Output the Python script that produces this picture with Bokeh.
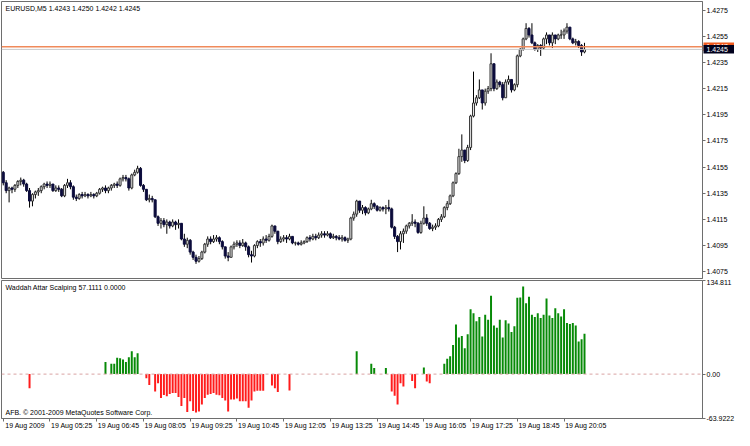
from bokeh.plotting import figure
from bokeh.layouts import column
from bokeh.models import ColumnDataSource, FixedTicker, Span, Label, NumeralTickFormatter, LinearAxis
from bokeh.embed import file_html
from bokeh.resources import INLINE
from bokeh.core.properties import value

FONT = "Liberation Sans"
FS = "7px"

# ---------------- data (EURUSD M5, 19 Aug 2009, 200 bars) ----------------
first_open = 1.4151
closes = [
    1.4143, 1.4137, 1.4139, 1.4138, 1.4141, 1.4144, 1.4145, 1.4142, 1.4137, 1.4129,   # 0-9
    1.4134, 1.4136, 1.4137, 1.4140, 1.4142, 1.4141, 1.4142, 1.4137, 1.4139, 1.4138,   # 10-19
    1.4133, 1.4141, 1.4143, 1.4140, 1.4132, 1.4131, 1.4134, 1.4133, 1.4134, 1.4133,   # 20-29
    1.4134, 1.4133, 1.4135, 1.4138, 1.4139, 1.4137, 1.4139, 1.4141, 1.4142, 1.4141,   # 30-39
    1.4146, 1.4147, 1.4146, 1.4139, 1.4149, 1.4151, 1.4154, 1.4141, 1.4138, 1.4130,   # 40-49
    1.4131, 1.4130, 1.4117, 1.4112, 1.4114, 1.4111, 1.4113, 1.4110, 1.4113, 1.4111,   # 50-59
    1.4112, 1.4100, 1.4096, 1.4099, 1.4090, 1.4086, 1.4083, 1.4085, 1.4090, 1.4096,   # 60-69
    1.4100, 1.4098, 1.4100, 1.4101, 1.4098, 1.4094, 1.4087, 1.4086, 1.4094, 1.4096,   # 70-79
    1.4097, 1.4095, 1.4097, 1.4094, 1.4088, 1.4087, 1.4095, 1.4098, 1.4097, 1.4100,   # 80-89
    1.4099, 1.4102, 1.4110, 1.4106, 1.4098, 1.4100, 1.4101, 1.4100, 1.4102, 1.4097,   # 90-99
    1.4097, 1.4096, 1.4097, 1.4098, 1.4101, 1.4100, 1.4102, 1.4101, 1.4103, 1.4104,   # 100-109
    1.4103, 1.4104, 1.4101, 1.4102, 1.4101, 1.4100, 1.4101, 1.4099, 1.4100, 1.4116,   # 110-119
    1.4119, 1.4129, 1.4122, 1.4124, 1.4120, 1.4123, 1.4127, 1.4125, 1.4122, 1.4124,   # 120-129
    1.4123, 1.4124, 1.4123, 1.4109, 1.4102, 1.4098, 1.4104, 1.4106, 1.4110, 1.4112,   # 130-139
    1.4113, 1.4112, 1.4105, 1.4112, 1.4116, 1.4112, 1.4108, 1.4109, 1.4110, 1.4115,   # 140-149
    1.4117, 1.4124, 1.4127, 1.4133, 1.4143, 1.4150, 1.4163, 1.4168, 1.4160, 1.4170,   # 150-159
    1.4194, 1.4204, 1.4208, 1.4214, 1.4204, 1.4213, 1.4215, 1.4234, 1.4215, 1.4220,   # 160-169
    1.4218, 1.4208, 1.4220, 1.4222, 1.4214, 1.4218, 1.4240, 1.4245, 1.4253, 1.4261,   # 170-179
    1.4256, 1.4250, 1.4245, 1.4248, 1.4246, 1.4253, 1.4256, 1.4250, 1.4256, 1.4253,   # 180-189
    1.4256, 1.4256, 1.4259, 1.4262, 1.4253, 1.4250, 1.4251, 1.4248, 1.4243, 1.4245,   # 190-199
]
highs = [
    1.4152, 1.4145, 1.4140, 1.4140, 1.4142, 1.4145, 1.4147, 1.4146, 1.4143, 1.4139,
    1.4135, 1.4137, 1.4139, 1.4141, 1.4143, 1.4144, 1.4144, 1.4142, 1.4141, 1.4141,
    1.4139, 1.4142, 1.4146, 1.4145, 1.4141, 1.4134, 1.4135, 1.4136, 1.4136, 1.4135,
    1.4136, 1.4135, 1.4136, 1.4139, 1.4140, 1.4141, 1.4140, 1.4142, 1.4143, 1.4144,
    1.4147, 1.4149, 1.4149, 1.4147, 1.4150, 1.4153, 1.4156, 1.4155, 1.4142, 1.4138,
    1.4134, 1.4133, 1.4130, 1.4118, 1.4116, 1.4116, 1.4115, 1.4114, 1.4115, 1.4114,
    1.4115, 1.4112, 1.4104, 1.4101, 1.4100, 1.4091, 1.4088, 1.4087, 1.4091, 1.4097,
    1.4102, 1.4102, 1.4103, 1.4103, 1.4102, 1.4099, 1.4094, 1.4090, 1.4095, 1.4098,
    1.4099, 1.4099, 1.4100, 1.4098, 1.4095, 1.4091, 1.4096, 1.4099, 1.4100, 1.4102,
    1.4103, 1.4104, 1.4111, 1.4110, 1.4106, 1.4102, 1.4103, 1.4103, 1.4104, 1.4102,
    1.4098, 1.4098, 1.4099, 1.4099, 1.4102, 1.4103, 1.4104, 1.4104, 1.4105, 1.4106,
    1.4106, 1.4106, 1.4105, 1.4104, 1.4103, 1.4103, 1.4103, 1.4102, 1.4101, 1.4117,
    1.4121, 1.4130, 1.4129, 1.4126, 1.4125, 1.4124, 1.4130, 1.4128, 1.4126, 1.4125,
    1.4125, 1.4126, 1.4130, 1.4124, 1.4110, 1.4103, 1.4106, 1.4108, 1.4111, 1.4113,
    1.4119, 1.4115, 1.4113, 1.4114, 1.4125, 1.4119, 1.4113, 1.4111, 1.4112, 1.4116,
    1.4119, 1.4125, 1.4129, 1.4134, 1.4144, 1.4151, 1.4169, 1.4180, 1.4168, 1.4172,
    1.4195, 1.4228, 1.4210, 1.4222, 1.4213, 1.4215, 1.4217, 1.4242, 1.4234, 1.4222,
    1.4221, 1.4220, 1.4222, 1.4225, 1.4221, 1.4219, 1.4241, 1.4246, 1.4254, 1.4265,
    1.4262, 1.4265, 1.4251, 1.4249, 1.4249, 1.4254, 1.4258, 1.4256, 1.4258, 1.4256,
    1.4257, 1.4260, 1.4261, 1.4265, 1.4262, 1.4254, 1.4253, 1.4252, 1.4249, 1.4250,
]
lows = [
    1.4141, 1.4135, 1.4128, 1.4135, 1.4136, 1.4139, 1.4141, 1.4140, 1.4136, 1.4124,
    1.4125, 1.4131, 1.4133, 1.4135, 1.4138, 1.4139, 1.4139, 1.4136, 1.4136, 1.4136,
    1.4132, 1.4132, 1.4139, 1.4138, 1.4130, 1.4129, 1.4130, 1.4131, 1.4132, 1.4131,
    1.4132, 1.4131, 1.4132, 1.4134, 1.4136, 1.4135, 1.4135, 1.4137, 1.4139, 1.4139,
    1.4140, 1.4144, 1.4144, 1.4137, 1.4138, 1.4148, 1.4150, 1.4140, 1.4136, 1.4129,
    1.4128, 1.4128, 1.4116, 1.4110, 1.4108, 1.4109, 1.4104, 1.4108, 1.4109, 1.4107,
    1.4108, 1.4099, 1.4094, 1.4093, 1.4088, 1.4084, 1.4081, 1.4082, 1.4084, 1.4089,
    1.4094, 1.4096, 1.4097, 1.4098, 1.4096, 1.4092, 1.4085, 1.4083, 1.4086, 1.4092,
    1.4094, 1.4093, 1.4094, 1.4091, 1.4086, 1.4082, 1.4086, 1.4093, 1.4094, 1.4095,
    1.4097, 1.4098, 1.4101, 1.4104, 1.4096, 1.4097, 1.4098, 1.4097, 1.4099, 1.4096,
    1.4095, 1.4095, 1.4095, 1.4096, 1.4097, 1.4098, 1.4099, 1.4099, 1.4100, 1.4101,
    1.4101, 1.4102, 1.4100, 1.4100, 1.4099, 1.4099, 1.4098, 1.4098, 1.4097, 1.4099,
    1.4114, 1.4117, 1.4120, 1.4119, 1.4118, 1.4119, 1.4122, 1.4123, 1.4121, 1.4121,
    1.4121, 1.4119, 1.4121, 1.4108, 1.4100, 1.4090, 1.4092, 1.4097, 1.4104, 1.4108,
    1.4110, 1.4109, 1.4104, 1.4104, 1.4111, 1.4110, 1.4107, 1.4106, 1.4107, 1.4109,
    1.4113, 1.4116, 1.4122, 1.4126, 1.4132, 1.4142, 1.4149, 1.4159, 1.4158, 1.4159,
    1.4168, 1.4193, 1.4202, 1.4207, 1.4199, 1.4202, 1.4211, 1.4213, 1.4213, 1.4214,
    1.4216, 1.4206, 1.4208, 1.4218, 1.4212, 1.4213, 1.4216, 1.4239, 1.4244, 1.4252,
    1.4254, 1.4249, 1.4244, 1.4243, 1.4240, 1.4245, 1.4249, 1.4248, 1.4246, 1.4249,
    1.4252, 1.4253, 1.4253, 1.4257, 1.4252, 1.4249, 1.4248, 1.4246, 1.4240, 1.4242,
]
# Waddah Attar Scalping histogram (0 = no bar)
scalping = [
    0, 0, 0, 0, 0, 0, 0, 0, 0, -20.2,                                           # 0-9
    0, 0, 0, 0, 0, 0, 0, 0, 0, 0,                                               # 10-19
    0, 0, 0, 0, 0, 0, 0, 0, 0, 0,                                               # 20-29
    0, 0, 0, 0, 0, 17.4, 0, 15.0, 15.0, 23.5,                                   # 30-39
    23.0, 21.1, 17.4, 24.4, 32.9, 24.4, 30.1, 0, 0, -6.1,                       # 40-49
    -15.5, 0, -24.9, -13.2, -34.3, -30.0, -31.9, -28.7, -27.2, -27.2,           # 50-59
    -33.0, -46.0, -34.3, -54.5, -39.0, -53.0, -55.4, -54.0, -43.7, -34.3,       # 60-69
    -29.6, -28.7, -27.2, -29.6, -30.5, -34.3, -38.0, -54.0, -36.6, -36.6,       # 70-79
    -35.2, -39.0, -39.0, -39.0, -48.4, -38.0, -24.9, -24.0, -24.0, -24.0,       # 80-89
    0, 0, -16.4, -20.2, -25.8, 0, 0, 0, -23.5, 0,                               # 90-99
    0, 0, 0, 0, 0, 0, 0, 0, 0, 0,                                               # 100-109
    0, 0, 0, 0, 0, 0, 0, 0, 0, 0,                                               # 110-119
    0, 32.9, 0, 0, 0, 0, 15.0, 8.9, 0, 0,                                       # 120-129
    0, 8.9, 0, -24.9, -31.0, -43.7, -13.2, -17.8, 0, 0,                         # 130-139
    -9.9, -20.2, 0, 0, 9.4, -10.8, -13.2, 0, 0, 0,                              # 140-149
    0, 15.0, 22.0, 25.8, 41.8, 71.4, 52.6, 55.0, 37.1, 57.3,                    # 150-159
    93.5, 87.8, 76.1, 82.2, 54.0, 85.5, 78.4, 112.7, 70.0, 66.7,                # 160-169
    78.4, 52.6, 77.5, 72.8, 60.6, 69.0, 110.0, 110.4, 126.3, 102.0,             # 170-179
    111.3, 85.5, 82.2, 87.8, 80.8, 85.5, 109.0, 84.5, 80.8, 94.9,               # 180-189
    87.8, 83.1, 93.5, 73.7, 72.3, 73.7, 70.0, 47.0, 50.3, 58.2,                 # 190-199
]
bid_price = 1.4245
ask_price = 1.4247
price_ticks = [1.4075, 1.4095, 1.4115, 1.4135, 1.4155, 1.4175, 1.4195, 1.4215, 1.4235, 1.4255, 1.4275]
ind_min, ind_max = -63.9222, 134.811
ind_ticks = [ind_min, 0.0, ind_max]
ind_tick_labels = ["-63.9222", "0.00", "134.811"]
time_tick_bars = [0, 16, 32, 48, 64, 80, 96, 112, 128, 144, 160, 176, 192]
time_tick_labels = ["19 Aug 2009", "19 Aug 05:25", "19 Aug 06:45", "19 Aug 08:05", "19 Aug 09:25",
                    "19 Aug 10:45", "19 Aug 12:05", "19 Aug 13:25", "19 Aug 14:45", "19 Aug 16:05",
                    "19 Aug 17:25", "19 Aug 18:45", "19 Aug 20:05"]
title_text = "EURUSD,M5  1.4243 1.4250 1.4242 1.4245"
ind_title = "Waddah Attar Scalping 57.1111 0.0000"
copyright_text = "AFB. \u00a9 2001-2009 MetaQuotes Software Corp."

n = len(closes)
assert len(highs) == n and len(lows) == n and len(scalping) == n
# each bar opens at the previous bar's close (continuous FX quotes)
opens = [first_open] + closes[:-1]
idx = list(range(n))

bull_i = [i for i in idx if closes[i] >= opens[i]]
bear_i = [i for i in idx if closes[i] < opens[i]]


def body(ii):
    return ColumnDataSource(dict(
        x=ii,
        top=[max(opens[i], closes[i]) for i in ii],
        bottom=[min(opens[i], closes[i]) for i in ii],
    ))


wick_src = ColumnDataSource(dict(x=idx, hi=highs, lo=lows))

X0, X1 = -0.6, 239.4
Y0, Y1 = 1.40698, 1.42816
FW = 701
RB = 32
PX_PER_BAR = FW / (X1 - X0)
BORDER = "#6e6e6e"
LABEL_SHIFT = 7.5   # time labels sit to the right of their tick (MetaTrader style)


def style_axis(ax):
    ax.axis_line_color = BORDER
    ax.major_tick_line_color = BORDER
    ax.major_tick_out = 3
    ax.major_tick_in = 0
    ax.minor_tick_line_color = None
    ax.major_label_text_font = FONT
    ax.major_label_text_font_size = FS
    ax.major_label_text_color = "black"
    ax.major_label_standoff = 1


# ---------------- price panel ----------------
p1 = figure(frame_width=FW, frame_height=277, x_range=(X0, X1), y_range=(Y0, Y1),
            output_backend="svg", toolbar_location=None, x_axis_location=None,
            y_axis_location="right", min_border_left=1, min_border_right=RB,
            min_border_top=1, min_border_bottom=1)
p1.grid.visible = False
p1.outline_line_color = BORDER
p1.background_fill_color = "white"
p1.border_fill_color = "white"
p1.yaxis.ticker = FixedTicker(ticks=price_ticks)
p1.yaxis.formatter = NumeralTickFormatter(format="0.0000")
style_axis(p1.yaxis[0])

p1.add_layout(Span(location=ask_price, dimension="width", line_color="#f08a5a", line_width=1.5))
p1.add_layout(Span(location=bid_price, dimension="width", line_color="#c8c8c8", line_width=1))

p1.segment(x0="x", y0="lo", x1="x", y1="hi", source=wick_src, line_color="black", line_width=1)
p1.vbar(x="x", top="top", bottom="bottom", width=0.7, source=body(bull_i),
        fill_color="#e4e4e4", line_color="#333333", line_width=1)
p1.vbar(x="x", top="top", bottom="bottom", width=0.7, source=body(bear_i),
        fill_color="#0c0c3c", line_color="#0c0c3c", line_width=1)

p1.add_layout(Label(x=X0, y=Y1, x_offset=4, y_offset=-3, text=title_text,
                    text_baseline="top", text_font=FONT, text_font_size=FS, text_color="black"))

# current ask / bid price boxes on the price scale (drawn at overlay level, outside the frame)
box_cx = X1 + (RB / 2 + 1) / PX_PER_BAR
p1.rect(x=[box_cx], y=[ask_price], width=RB, height=8.5, width_units="screen", height_units="screen",
        fill_color="#f05a1e", line_color=None, level="overlay")
p1.text(x=[X1], y=[ask_price], text=[f"{ask_price:.4f}"], x_offset=4, text_baseline="middle",
        text_font=value(FONT), text_font_size=FS, text_color="white", level="overlay")
p1.rect(x=[box_cx], y=[bid_price], width=RB, height=8.5, width_units="screen", height_units="screen",
        fill_color="#00001c", line_color=None, level="overlay")
p1.text(x=[X1], y=[bid_price], text=[f"{bid_price:.4f}"], x_offset=4, text_baseline="middle",
        text_font=value(FONT), text_font_size=FS, text_color="white", level="overlay")

# ---------------- indicator panel ----------------
pos_i = [i for i in idx if scalping[i] > 0]
neg_i = [i for i in idx if scalping[i] < 0]
pos_src = ColumnDataSource(dict(x=pos_i, v=[scalping[i] for i in pos_i]))
neg_src = ColumnDataSource(dict(x=neg_i, v=[scalping[i] for i in neg_i]))

p2 = figure(frame_width=FW, frame_height=138, x_range=p1.x_range, y_range=(ind_min, ind_max),
            output_backend="svg", toolbar_location=None, y_axis_location="right",
            min_border_left=1, min_border_right=RB, min_border_top=1, min_border_bottom=0)
p2.grid.visible = False
p2.outline_line_color = BORDER
p2.background_fill_color = "white"
p2.border_fill_color = "white"
p2.yaxis.ticker = FixedTicker(ticks=ind_ticks)
p2.yaxis.major_label_overrides = {t: s for t, s in zip(ind_ticks, ind_tick_labels)}
style_axis(p2.yaxis[0])

# tick marks only
p2.xaxis.ticker = FixedTicker(ticks=time_tick_bars)
style_axis(p2.xaxis[0])
p2.xaxis.major_label_overrides = {t: "" for t in time_tick_bars}
p2.xaxis.major_label_text_font_size = "0px"
p2.xaxis.major_label_standoff = 0

# labels, set just right of each tick
label_pos = [b + LABEL_SHIFT for b in time_tick_bars]
time_axis = LinearAxis(ticker=FixedTicker(ticks=label_pos),
                       major_label_overrides={t: s for t, s in zip(label_pos, time_tick_labels)})
style_axis(time_axis)
time_axis.axis_line_color = None
time_axis.major_tick_line_color = None
time_axis.major_tick_out = 0
time_axis.major_label_standoff = 0
p2.add_layout(time_axis, "below")

p2.add_layout(Span(location=0, dimension="width", line_color="#d9a3a3", line_width=1, line_dash="3 3"))
p2.vbar(x="x", top="v", bottom=0, width=0.68, source=pos_src, fill_color="#078a07", line_color=None)
p2.vbar(x="x", top="v", bottom=0, width=0.68, source=neg_src, fill_color="#ff1c1c", line_color=None)

p2.add_layout(Label(x=X0, y=ind_max, x_offset=4, y_offset=-3, text=ind_title,
                    text_baseline="top", text_font=FONT, text_font_size=FS, text_color="black"))
p2.add_layout(Label(x=X0, y=ind_min, x_offset=4, y_offset=3, text=copyright_text,
                    text_baseline="bottom", text_font=FONT, text_font_size=FS, text_color="black"))

layout = column(p1, p2, spacing=0)
open("out.html", "w").write(file_html(layout, INLINE))
